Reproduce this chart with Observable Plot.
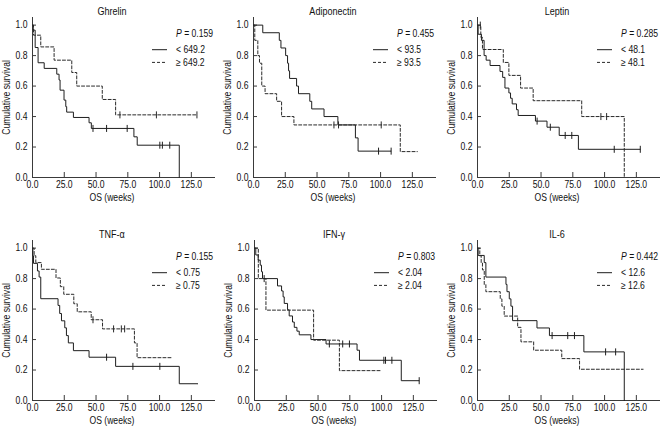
<!DOCTYPE html>
<html><head><meta charset="utf-8">
<script src="https://cdn.jsdelivr.net/npm/d3@7"></script>
<script src="https://cdn.jsdelivr.net/npm/@observablehq/plot@0.6"></script>
<style>
html,body{margin:0;padding:0;background:#fff;}
body{width:660px;height:432px;position:relative;overflow:hidden;}
.panel{position:absolute;width:220px;height:216px;}
</style></head><body>
<script>
// ---- data ----
const titles = ["Ghrelin", "Adiponectin", "Leptin", "TNF-α", "IFN-γ", "IL-6"];
const pValues = ["0.159", "0.455", "0.285", "0.155", "0.803", "0.442"];
const cutoffs = ["649.2", "93.5", "48.1", "0.75", "2.04", "12.6"];
const xTicks = [0, 25, 50, 75, 100, 125];
const yTicks = [0, 0.2, 0.4, 0.6, 0.8, 1.0];
const xLabel = "OS (weeks)";
const yLabel = "Cumulative survival";

// step curves: [weeks, cumulative survival]; censor times in weeks
const ghrelinLow = [[0,1],[0.5,0.967],[2.1,0.853],[4.4,0.753],[9.2,0.716],[19.1,0.678],[20.9,0.64],[21.7,0.573],[24.8,0.508],[26.2,0.465],[26.9,0.429],[32.2,0.394],[44.5,0.359],[46.3,0.322],[79.8,0.267],[82.4,0.212],[115.5,0]];
const ghrelinLowCens = [47.6, 58.3, 74.5, 100.2, 102.2, 108];
const ghrelinHigh = [[0,1],[0.8,0.934],[6.5,0.857],[17,0.77],[30.9,0.689],[34.8,0.6],[54.9,0.512],[65.4,0.411],[129.4,0.411]];
const ghrelinHighCens = [68.8, 97.5, 129.4];

const adipoLow = [[0,1],[7.3,0.95],[20.3,0.9],[21.6,0.85],[25.3,0.8],[26.8,0.75],[27.6,0.7],[28.4,0.65],[33.9,0.6],[35.4,0.55],[44.3,0.5],[45.8,0.45],[55.5,0.4],[66.4,0.345],[80.2,0.26],[82.3,0.173],[108.3,0.173]];
const adipoLowCens = [98.4, 108.3];
const adipoHigh = [[0,1],[1,0.9],[3.4,0.8],[4.7,0.75],[6.5,0.6],[9.1,0.55],[18.2,0.5],[22.1,0.4],[31.8,0.345],[115.5,0.17],[128.9,0.17]];
const adipoHighCens = [63.3, 66.9, 100.5];

const leptinLow = [[0,1],[0.5,0.94],[3.1,0.9],[5.2,0.8],[6.8,0.77],[9.9,0.735],[17.7,0.696],[19.8,0.657],[21.6,0.587],[24.7,0.555],[26,0.52],[27.3,0.483],[30.7,0.445],[32,0.407],[45.6,0.37],[54.7,0.33],[64.3,0.276],[79.4,0.185],[128.1,0.185]];
const leptinLowCens = [46.9, 57.3, 69, 74.2, 107.6, 128.1];
const leptinHigh = [[0,1],[2.6,0.92],[3.9,0.84],[20.3,0.755],[24.7,0.67],[33.9,0.587],[43.8,0.504],[82,0.4],[115.5,0]];
const leptinHighCens = [2.2, 97.1, 101.6];

const tnfLow = [[0,1],[0.3,0.95],[0.8,0.9],[3.9,0.85],[5.2,0.81],[6.5,0.668],[20.1,0.624],[21.4,0.571],[22.8,0.523],[25.4,0.477],[26.7,0.426],[28.2,0.378],[32.2,0.327],[44.5,0.284],[65.4,0.224],[115.5,0.11],[130.1,0.11]];
const tnfLowCens = [58.3, 79, 100.2];
const tnfHigh = [[0,1],[1.3,0.95],[2.6,0.905],[7,0.861],[18.5,0.804],[21.9,0.747],[24.6,0.697],[32.5,0.635],[35.2,0.582],[46.2,0.53],[55.1,0.47],[80.2,0.378],[82.3,0.281],[109.2,0.281]];
const tnfHighCens = [47.6, 63.8, 69.9, 72.5];

const ifnLow = [[0,1],[1,0.955],[2.9,0.921],[4.5,0.888],[5.5,0.845],[6.3,0.8],[18.1,0.752],[21.3,0.719],[22.5,0.68],[23.4,0.637],[26,0.595],[27.3,0.555],[29.9,0.515],[31.3,0.48],[33.4,0.455],[35.2,0.431],[44.4,0.4],[56.3,0.371],[80.7,0.33],[82.6,0.264],[115.5,0.13],[129.6,0.13]];
const ifnLowCens = [7.6, 58.9, 69.4, 74.7, 101.8, 103.1, 108.1, 129.6];
const ifnHigh = [[0,1],[3,0.8],[9,0.593],[46.5,0.396],[66.8,0.196],[98.9,0.196]];
const ifnHighCens = [];

const il6Low = [[0,1],[0.5,0.952],[5.3,0.905],[6.6,0.81],[22.4,0.762],[23.2,0.714],[25,0.667],[26.3,0.619],[27.6,0.524],[46.8,0.476],[56.6,0.426],[83.7,0.319],[115.5,0]];
const il6LowCens = [58.7, 71, 76.3, 100.8, 108.7];
const il6High = [[0,1],[1.8,0.95],[2.9,0.905],[3.9,0.857],[5.3,0.762],[6.6,0.714],[17.9,0.667],[19.2,0.619],[21,0.554],[31.6,0.48],[34.2,0.385],[44.2,0.33],[66.3,0.275],[80.3,0.205],[130.3,0.205]];
const il6HighCens = [];

const lowCurves = [ghrelinLow, adipoLow, leptinLow, tnfLow, ifnLow, il6Low];
const lowCensors = [ghrelinLowCens, adipoLowCens, leptinLowCens, tnfLowCens, ifnLowCens, il6LowCens];
const highCurves = [ghrelinHigh, adipoHigh, leptinHigh, tnfHigh, ifnHigh, il6High];
const highCensors = [ghrelinHighCens, adipoHighCens, leptinHighCens, tnfHighCens, ifnHighCens, il6HighCens];

// ---- layout / style ----
const FONT = "'Liberation Sans',Arial,Helvetica,sans-serif";
const NARROW = 0.82; // emulate a condensed face
const AXIS = "#3a3a3a";
const SOLID = "#1e1e1e";
const DASH = "#2a2a2a";
const layout = [
  {left: 0, top: 0, ml: 32}, {left: 220, top: 0, ml: 33}, {left: 440, top: 0, ml: 37},
  {left: 0, top: 223, ml: 32}, {left: 220, top: 223, ml: 34}, {left: 440, top: 223, ml: 37}
];
const FRAME_W = 183;

const vbar = {draw(ctx, size) { const h = Math.sqrt(size / Math.PI); ctx.moveTo(0, -h); ctx.lineTo(0, h); }};

function survAt(steps, t) {
  let s = steps[0][1];
  for (const [tt, ss] of steps) { if (tt <= t) s = ss; else break; }
  return s;
}

function legendMark(pv, cut) {
  return (index, scales, values, dims) => {
    const g = d3.create("svg:g").attr("font-family", FONT).attr("font-size", 10.5)
      .attr("fill", "#111").attr("text-anchor", "start");
    const x0 = dims.marginLeft, y0 = dims.marginTop;
    const label = (x, y) => g.append("g").attr("class", "narrowed")
      .attr("transform", `translate(${x},${y}) scale(${NARROW},1)`)
      .append("text").attr("dy", "0.35em");
    const t = label(x0 + 144, y0 + 16);
    t.append("tspan").attr("font-style", "italic").text("P");
    t.append("tspan").text(" = " + pv);
    const rows = [["< " + cut, SOLID, null, 32.7], ["≥ " + cut, DASH, "3,2", 45.4]];
    for (const [lab, col, da, yy] of rows) {
      g.append("line").attr("x1", x0 + 120).attr("x2", x0 + 135).attr("y1", y0 + yy).attr("y2", y0 + yy)
        .attr("stroke", col).attr("stroke-width", 1).attr("stroke-dasharray", da);
      label(x0 + 144, y0 + yy).text(lab);
    }
    return g.node();
  };
}

// condense glyphs horizontally without moving the anchors
function narrowText(svg) {
  svg.querySelectorAll("text").forEach(t => {
    if (t.closest(".narrowed")) return;
    const len = t.getComputedTextLength();
    if (len > 0) {
      t.setAttribute("textLength", (len * NARROW).toFixed(2));
      t.setAttribute("lengthAdjust", "spacingAndGlyphs");
    }
  });
}

const xMid = (d3.min(xTicks) + d3.max(xTicks)) / 2;
const fmt = d3.format(".1f");

titles.forEach((title, i) => {
  const L = layout[i];
  const low = lowCurves[i], high = highCurves[i];
  const lowC = lowCensors[i].map(t => ({t, s: survAt(low, t)}));
  const highC = highCensors[i].map(t => ({t, s: survAt(high, t)}));
  const plot = Plot.plot({
    width: 220, height: 216,
    marginLeft: L.ml, marginRight: 220 - L.ml - FRAME_W, marginTop: 17, marginBottom: 39,
    style: {fontFamily: FONT, fontSize: "10.5px", color: "#111", background: "transparent", overflow: "visible"},
    x: {domain: [0, 144]},
    y: {domain: [0, 1.05]},
    marks: [
      Plot.ruleX([0], {stroke: AXIS}),
      Plot.ruleY([0], {stroke: AXIS}),
      Plot.axisX(xTicks, {tickSize: -5, tickPadding: 8.5, tickFormat: fmt, label: null, stroke: AXIS}),
      Plot.axisY(yTicks, {tickSize: -4, tickPadding: 9, tickFormat: fmt, label: yLabel, labelAnchor: "center", labelOffset: 30, labelArrow: false, stroke: AXIS}),
      Plot.line(low, {x: d => d[0], y: d => d[1], curve: "step-after", stroke: SOLID, strokeWidth: 1}),
      Plot.line(high, {x: d => d[0], y: d => d[1], curve: "step-after", stroke: DASH, strokeWidth: 1, strokeDasharray: "3,2"}),
      Plot.dot(lowC, {x: "t", y: "s", symbol: vbar, r: 3.5, stroke: SOLID, fill: "none", strokeWidth: 1}),
      Plot.dot(highC, {x: "t", y: "s", symbol: vbar, r: 3.5, stroke: DASH, fill: "none", strokeWidth: 1}),
      Plot.text([title], {x: () => xMid, frameAnchor: "top", dy: -10, fontSize: 11, fontWeight: "normal", fill: "#111"}),
      Plot.text([xLabel], {x: () => xMid, frameAnchor: "bottom", dy: 23, fontSize: 10.5, fill: "#111"}),
      legendMark(pValues[i], cutoffs[i])
    ]
  });
  const div = document.createElement("div");
  div.className = "panel";
  div.style.left = L.left + "px";
  div.style.top = L.top + "px";
  div.appendChild(plot);
  document.body.appendChild(div);
  narrowText(plot);
});
</script>
</body></html>
